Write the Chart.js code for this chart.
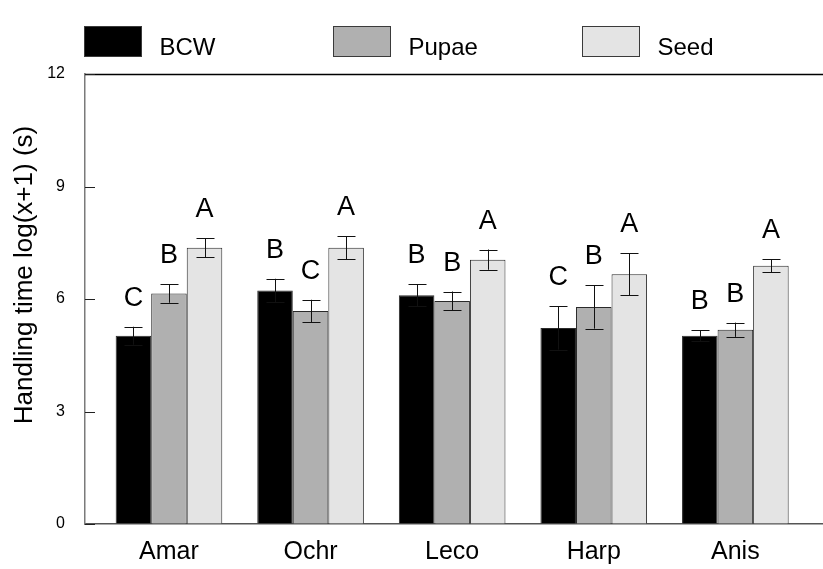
<!DOCTYPE html>
<html>
<head>
<meta charset="utf-8">
<script src="https://cdn.jsdelivr.net/npm/chart.js@4"></script>
<style>
  html, body { margin: 0; padding: 0; background: #ffffff; }
  #wrap { width: 823px; height: 569px; position: relative; }
</style>
</head>
<body>
<div id="wrap"><canvas id="chart" width="823" height="569"></canvas></div>
<script>
// Prey categories along the x axis
const categories = ['Amar', 'Ochr', 'Leco', 'Harp', 'Anis'];

// Series names
const seriesNames = ['BCW', 'Pupae', 'Seed'];

// Mean handling time, log(x+1) (s)
const bcwMeans   = [5.02, 6.23, 6.10, 5.23, 5.02];
const pupaeMeans = [6.15, 5.68, 5.95, 5.79, 5.18];
const seedMeans  = [7.37, 7.37, 7.05, 6.66, 6.89];

// Standard errors
const bcwErrors   = [0.24, 0.31, 0.29, 0.58, 0.15];
const pupaeErrors = [0.25, 0.30, 0.25, 0.58, 0.19];
const seedErrors  = [0.25, 0.31, 0.27, 0.56, 0.17];

// Significance letters
const bcwLetters   = ['C', 'B', 'B', 'C', 'B'];
const pupaeLetters = ['B', 'C', 'B', 'B', 'B'];
const seedLetters  = ['A', 'A', 'A', 'A', 'A'];

// Y axis ticks
const yTicks = [0, 3, 6, 9, 12];

const yTitle = 'Handling time log(x+1) (s)';

const FONT = "Arial, 'Liberation Sans', sans-serif";
const colors = ['#000000', '#b0b0b0', '#e4e4e4'];

const means = [bcwMeans, pupaeMeans, seedMeans];
const errors = [bcwErrors, pupaeErrors, seedErrors];
const letters = [bcwLetters, pupaeLetters, seedLetters];

const datasets = seriesNames.map((name, s) => ({
  label: name,
  data: means[s].map((v, i) => ({ x: i, y: v })),
  backgroundColor: colors[s],
  borderColor: '#2a2a2a',
  borderWidth: 1,
  categoryPercentage: 0.753,
  barPercentage: 1.0,
  errors: errors[s],
  letters: letters[s]
}));

// Error bars, significance letters, frame line, inward y ticks, y title and legend
const decorations = {
  id: 'decorations',
  afterDatasetsDraw(chart) {
    const ctx = chart.ctx;
    const y = chart.scales.y;
    const area = chart.chartArea;
    ctx.save();

    chart.data.datasets.forEach((ds, s) => {
      const meta = chart.getDatasetMeta(s);
      meta.data.forEach((bar, i) => {
        const v = ds.data[i].y;
        const e = ds.errors[i];
        const top = y.getPixelForValue(v + e);
        const bot = y.getPixelForValue(v - e);
        const x = Math.round(bar.x) + 0.5;
        ctx.strokeStyle = '#111111';
        ctx.lineWidth = 1;
        ctx.beginPath();
        ctx.moveTo(x, top); ctx.lineTo(x, bot);
        ctx.moveTo(x - 9, Math.round(top) + 0.5); ctx.lineTo(x + 9, Math.round(top) + 0.5);
        ctx.moveTo(x - 9, Math.round(bot) + 0.5); ctx.lineTo(x + 9, Math.round(bot) + 0.5);
        ctx.stroke();

        ctx.fillStyle = '#000000';
        ctx.font = '27px ' + FONT;
        ctx.textAlign = 'center';
        ctx.textBaseline = 'alphabetic';
        ctx.fillText(ds.letters[i], bar.x, top - 21);
      });
    });

    // top frame line
    ctx.strokeStyle = '#000000';
    ctx.lineWidth = 1.5;
    ctx.beginPath();
    ctx.moveTo(area.left, Math.round(area.top) + 0.5);
    ctx.lineTo(chart.width, Math.round(area.top) + 0.5);
    ctx.stroke();

    // inward tick marks on the y axis
    ctx.strokeStyle = '#202020';
    ctx.lineWidth = 1;
    ctx.beginPath();
    yTicks.forEach(t => {
      const py = Math.round(y.getPixelForValue(t)) + 0.5;
      ctx.moveTo(area.left, py);
      ctx.lineTo(area.left + 10, py);
    });
    ctx.stroke();

    // y axis title
    ctx.save();
    ctx.translate(31.5, 275);
    ctx.rotate(-Math.PI / 2);
    ctx.fillStyle = '#000000';
    ctx.font = '26px ' + FONT;
    ctx.textAlign = 'center';
    ctx.textBaseline = 'alphabetic';
    ctx.fillText(yTitle, 0, 0);
    ctx.restore();

    // legend
    chart.data.datasets.forEach((ds, s) => {
      const bx = 84.5 + s * 249;
      ctx.fillStyle = ds.backgroundColor;
      ctx.fillRect(bx, 26.5, 57, 30);
      ctx.strokeStyle = '#3a3a3a';
      ctx.lineWidth = 1;
      ctx.strokeRect(bx, 26.5, 57, 30);
      ctx.fillStyle = '#000000';
      ctx.font = '24px ' + FONT;
      ctx.textAlign = 'left';
      ctx.textBaseline = 'alphabetic';
      ctx.fillText(ds.label, bx + 75, 55);
    });

    ctx.restore();
  }
};

new Chart(document.getElementById('chart'), {
  type: 'bar',
  data: { datasets },
  options: {
    responsive: false,
    animation: false,
    events: [],
    layout: { padding: { top: 74, right: 0, bottom: 0, left: 0 } },
    plugins: {
      legend: { display: false },
      tooltip: { enabled: false }
    },
    scales: {
      x: {
        type: 'linear',
        offset: false,
        min: -0.593,
        max: 4.619,
        afterBuildTicks(scale) {
          scale.ticks = categories.map((c, i) => ({ value: i }));
        },
        afterFit(scale) { scale.height = 45; },
        ticks: {
          autoSkip: false,
          maxRotation: 0,
          padding: 13,
          color: '#000000',
          font: { family: FONT, size: 25 },
          callback: (v) => categories[v] ?? ''
        },
        grid: { display: true, drawOnChartArea: false, drawTicks: false },
        border: { display: true, color: '#555555', width: 1.5 }
      },
      y: {
        min: 0,
        max: 12,
        afterBuildTicks(scale) {
          scale.ticks = yTicks.map(v => ({ value: v }));
        },
        afterFit(scale) { scale.width = 85; },
        ticks: {
          padding: 20,
          color: '#000000',
          font: { family: FONT, size: 16 }
        },
        grid: { display: true, drawOnChartArea: false, drawTicks: false },
        border: { display: true, color: '#7a7a7a', width: 1.5 }
      }
    }
  },
  plugins: [decorations]
});
</script>
</body>
</html>
